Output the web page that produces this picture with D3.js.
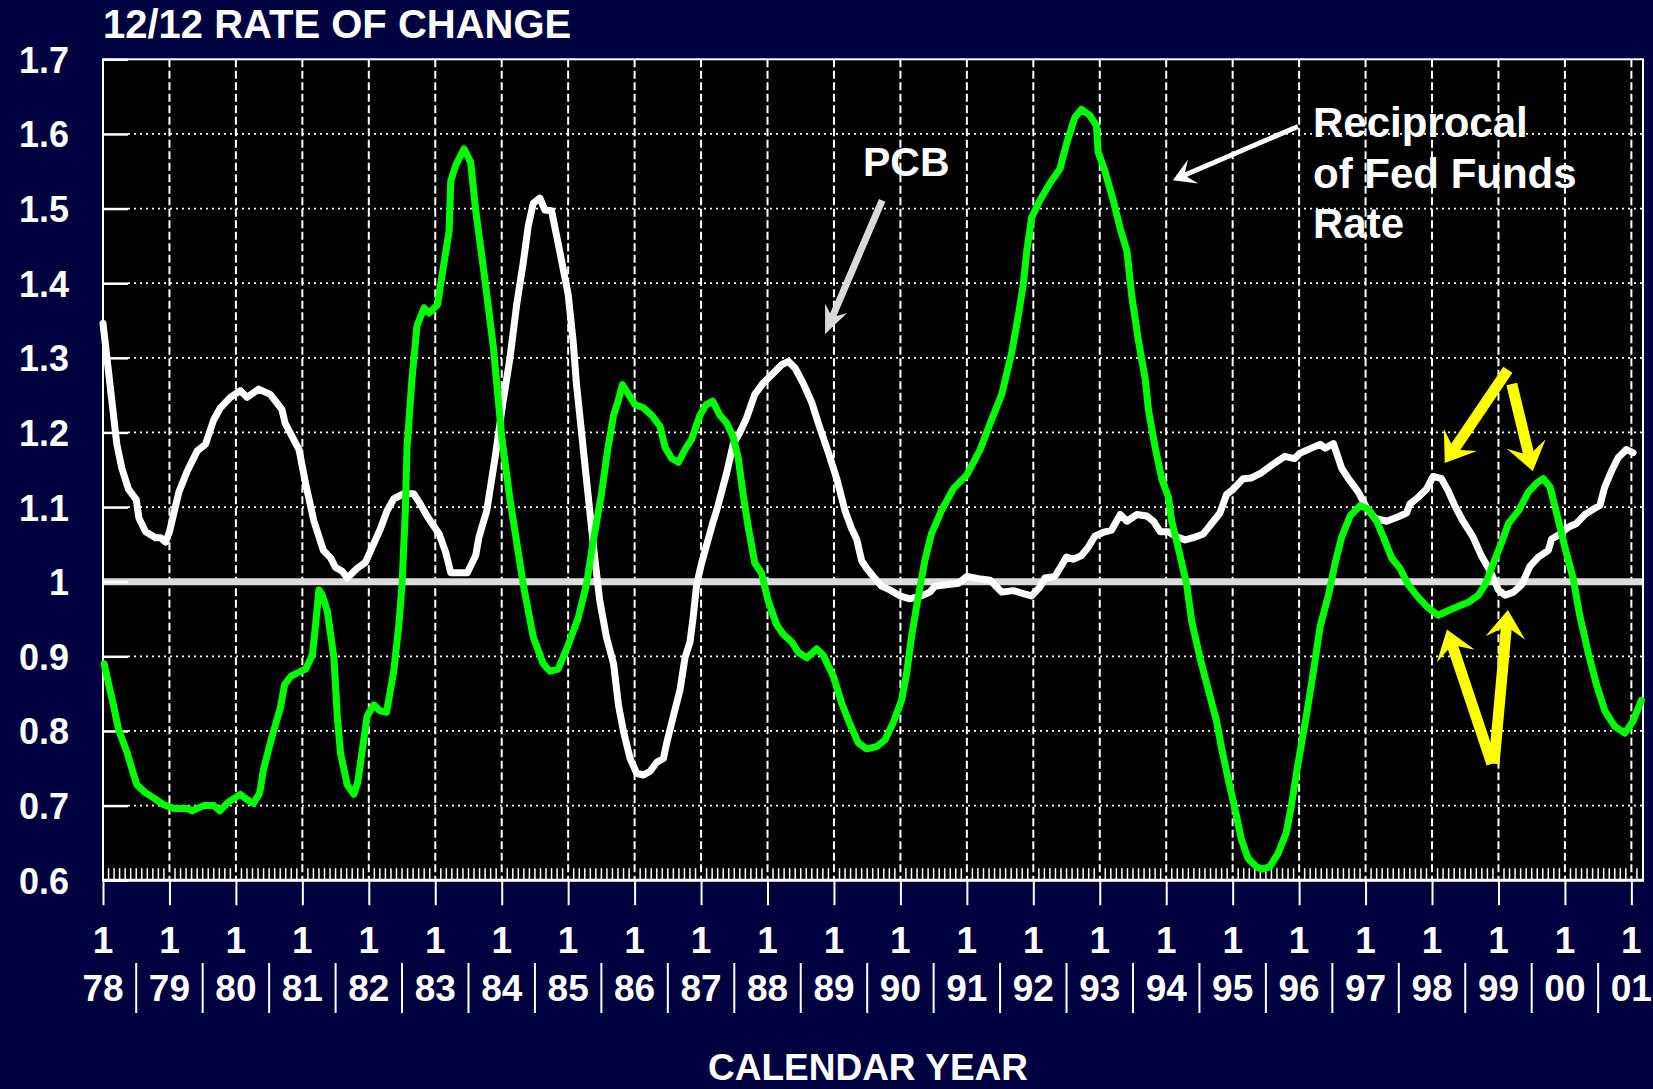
<!DOCTYPE html>
<html><head><meta charset="utf-8">
<script src="https://cdn.jsdelivr.net/npm/d3@7"></script>
<style>
html,body{margin:0;padding:0;background:#000040;}
svg{display:block;font-family:"Liberation Sans",Arial,sans-serif;font-weight:bold;}
</style></head>
<body><svg id="c" width="1653" height="1089"></svg>
<script>
// ---- data (month offset from Jan 1978, value) ----
const pcbSeries = [[0,1.346],[2.5,1.184],[3.4,1.152],[4.6,1.124],[6.0,1.110],[6.5,1.085],[7.7,1.067],[9.5,1.059],[10.4,1.059],[11.3,1.053],[12.0,1.067],[13.7,1.120],[15.2,1.148],[17.0,1.175],[18.5,1.184],[20.0,1.217],[21.2,1.233],[23.0,1.247],[24.8,1.256],[26.0,1.247],[28.1,1.258],[30.2,1.251],[32.3,1.231],[32.9,1.212],[35.4,1.177],[36.6,1.131],[38.1,1.081],[39.8,1.042],[41.1,1.032],[42.0,1.019],[43.2,1.014],[44.1,1.005],[45.9,1.018],[47.4,1.026],[48.6,1.046],[50.1,1.071],[51.3,1.095],[52.5,1.111],[54.3,1.118],[56.1,1.118],[57.3,1.104],[58.6,1.087],[60.7,1.064],[61.9,1.039],[62.8,1.012],[65.8,1.012],[67.3,1.035],[67.9,1.060],[69.3,1.095],[70.8,1.166],[72.3,1.244],[73.5,1.300],[74.7,1.371],[75.9,1.428],[76.8,1.477],[77.7,1.507],[78.9,1.514],[79.8,1.498],[81.0,1.497],[82.5,1.442],[84.0,1.385],[84.9,1.322],[85.5,1.265],[86.7,1.180],[87.9,1.095],[88.8,1.032],[89.7,0.975],[90.9,0.926],[92.2,0.890],[93.1,0.834],[94.0,0.799],[95.2,0.763],[96.4,0.743],[97.6,0.741],[98.8,0.746],[100.0,0.758],[101.2,0.763],[101.8,0.784],[103.0,0.820],[104.2,0.855],[105.1,0.898],[106.0,0.919],[106.6,0.954],[107.2,0.996],[108.1,1.025],[109.3,1.057],[110.2,1.081],[110.8,1.095],[111.7,1.120],[112.6,1.145],[113.8,1.184],[115.0,1.200],[116.2,1.219],[117.7,1.251],[119.2,1.266],[121.0,1.279],[122.6,1.291],[123.8,1.295],[125.0,1.286],[126.5,1.265],[128.0,1.240],[129.5,1.205],[131.0,1.173],[132.5,1.138],[134.0,1.095],[135.2,1.071],[136.1,1.057],[137.0,1.028],[137.9,1.018],[139.1,1.007],[140.6,0.994],[142.1,0.989],[143.9,0.981],[145.7,0.977],[147.8,0.981],[149.3,0.986],[150.2,0.994],[152.3,0.996],[154.5,0.998],[156.0,1.007],[158.1,1.004],[160.2,1.002],[161.4,0.993],[162.3,0.986],[164.4,0.988],[166.2,0.984],[167.7,0.981],[169.2,0.993],[170.1,1.005],[171.9,1.007],[172.8,1.018],[174.0,1.033],[175.2,1.030],[176.7,1.035],[177.9,1.046],[179.1,1.061],[180.6,1.066],[182.1,1.069],[183.7,1.090],[184.9,1.081],[186.7,1.090],[188.5,1.088],[189.7,1.081],[190.9,1.067],[192.4,1.067],[193.9,1.060],[195.4,1.056],[196.9,1.059],[198.7,1.064],[200.2,1.078],[201.7,1.092],[202.9,1.117],[204.1,1.124],[205.9,1.138],[207.4,1.139],[209.0,1.145],[211.6,1.159],[213.4,1.168],[215.2,1.165],[216.1,1.172],[217.6,1.177],[219.8,1.184],[220.7,1.179],[222.2,1.185],[223.7,1.152],[224.9,1.138],[226.7,1.120],[228.2,1.099],[229.7,1.085],[231.8,1.081],[233.9,1.087],[235.4,1.092],[236.0,1.104],[237.5,1.113],[239.0,1.124],[240.2,1.141],[241.7,1.138],[242.9,1.122],[244.1,1.102],[245.6,1.081],[247.4,1.060],[248.9,1.035],[250.5,1.014],[252.0,0.989],[253.2,0.982],[254.7,0.986],[256.2,0.996],[257.7,1.021],[259.2,1.033],[261.0,1.042],[261.6,1.057],[263.1,1.064],[264.6,1.073],[266.1,1.078],[267.6,1.090],[269.1,1.097],[270.3,1.102],[271.2,1.127],[272.4,1.148],[273.6,1.166],[275.1,1.177],[276.3,1.173]];

const fedFundsRecipSeries = [[0.2,0.890],[1.9,0.834],[2.8,0.802],[4.3,0.772],[6.1,0.728],[7.7,0.717],[9.2,0.710],[11.0,0.701],[12.8,0.696],[15.2,0.696],[16.1,0.693],[18.2,0.700],[20.0,0.700],[21.1,0.693],[22.7,0.705],[24.8,0.715],[26.0,0.708],[27.2,0.703],[28.3,0.717],[29.0,0.749],[30.5,0.792],[32.0,0.830],[32.8,0.862],[33.9,0.873],[35.7,0.880],[36.6,0.883],[37.8,0.901],[38.4,0.943],[39.0,0.989],[39.6,0.982],[40.5,0.961],[41.7,0.898],[42.3,0.820],[42.9,0.770],[44.1,0.728],[45.3,0.715],[46.0,0.731],[47.7,0.820],[48.9,0.835],[50.0,0.827],[51.2,0.825],[52.5,0.880],[53.4,0.940],[54.0,0.996],[54.6,1.095],[54.9,1.180],[55.8,1.272],[56.7,1.343],[58.0,1.367],[58.9,1.360],[60.4,1.371],[61.6,1.428],[62.5,1.470],[62.8,1.537],[63.7,1.558],[65.2,1.580],[66.4,1.562],[67.3,1.498],[68.7,1.420],[70.5,1.314],[72.0,1.194],[73.5,1.110],[74.7,1.053],[75.9,0.996],[76.8,0.961],[77.7,0.926],[79.5,0.890],[80.7,0.880],[82.2,0.883],[84.0,0.915],[85.8,0.951],[87.3,0.996],[88.5,1.053],[90.0,1.117],[91.2,1.180],[92.2,1.223],[93.1,1.244],[93.8,1.264],[94.9,1.251],[96.1,1.237],[97.6,1.233],[99.1,1.223],[100.6,1.208],[101.5,1.180],[102.7,1.165],[103.9,1.160],[105.1,1.177],[106.3,1.191],[107.8,1.223],[108.9,1.237],[110.1,1.242],[111.4,1.223],[112.6,1.213],[113.8,1.194],[114.7,1.166],[115.6,1.117],[116.5,1.074],[117.7,1.025],[118.9,1.012],[120.1,0.975],[121.6,0.943],[122.9,0.929],[124.4,0.919],[125.6,0.905],[127.1,0.898],[128.9,0.910],[130.1,0.901],[131.9,0.873],[133.4,0.837],[134.9,0.809],[136.4,0.784],[137.9,0.776],[139.7,0.779],[141.2,0.788],[142.7,0.811],[144.2,0.841],[145.1,0.876],[146.0,0.926],[147.2,0.979],[148.4,1.028],[149.6,1.064],[151.4,1.095],[153.6,1.125],[156.0,1.143],[158.4,1.177],[160.2,1.212],[162.3,1.251],[164.1,1.307],[165.3,1.357],[166.2,1.399],[166.8,1.442],[167.7,1.488],[169.2,1.511],[171.0,1.534],[172.8,1.553],[174.0,1.587],[175.5,1.622],[176.7,1.633],[178.2,1.625],[179.4,1.611],[179.7,1.576],[180.9,1.551],[182.4,1.512],[183.7,1.473],[184.9,1.443],[185.8,1.382],[187.0,1.322],[188.2,1.272],[188.8,1.230],[190.0,1.180],[191.2,1.138],[192.4,1.113],[193.0,1.081],[194.5,1.035],[195.7,0.996],[196.6,0.947],[198.1,0.898],[199.6,0.855],[201.1,0.813],[202.0,0.777],[203.2,0.735],[204.4,0.696],[205.6,0.654],[206.8,0.629],[208.3,0.618],[209.2,0.615],[210.7,0.618],[212.2,0.636],[213.7,0.664],[214.6,0.700],[215.8,0.756],[217.3,0.820],[218.5,0.876],[219.8,0.940],[221.3,0.982],[222.5,1.025],[223.7,1.060],[225.2,1.088],[227.0,1.102],[228.5,1.097],[230.0,1.081],[231.2,1.060],[232.7,1.032],[234.2,1.018],[235.7,0.996],[237.5,0.979],[239.3,0.965],[241.1,0.955],[242.9,0.961],[244.7,0.967],[246.5,0.972],[248.4,0.982],[249.6,0.996],[251.1,1.025],[252.6,1.053],[253.8,1.078],[255.6,1.095],[257.4,1.120],[258.9,1.132],[260.1,1.138],[261.3,1.127],[262.5,1.092],[264.0,1.046],[265.5,1.004],[266.7,0.954],[268.2,0.905],[269.7,0.862],[271.2,0.827],[273.0,0.806],[274.8,0.797],[276.3,0.813],[277.8,0.841]];

const yearLabels = ["78","79","80","81","82","83","84","85","86","87","88","89","90","91","92","93","94","95","96","97","98","99","00","01"];
const monthLabel = "1";
const yTickValues = [0.6,0.7,0.8,0.9,1.0,1.1,1.2,1.3,1.4,1.5,1.6,1.7];
const yTickLabels = ["0.6","0.7","0.8","0.9","1","1.1","1.2","1.3","1.4","1.5","1.6","1.7"];
const referenceValue = 1.0;
const chartTitle = "12/12 RATE OF CHANGE";
const xTitle = "CALENDAR YEAR";
const pcbLabel = ["PCB"];
const fedLabel = ["Reciprocal","of Fed Funds","Rate"];
// annotation arrows in data space: [tailMonth, tailValue, tipMonth, tipValue]
const pcbArrow = [140.7,1.511,130.4,1.332];
const fedArrow = [215.8,1.610,193.2,1.538];
const yellowArrows = [[253.7,1.284,242.3,1.159],[254.4,1.265,258.2,1.148],[250.8,0.756,242.7,0.936],[251.2,0.756,253.7,0.962]];

// ---- layout ----
const L=103, R=1643, T=59.3, B=880.2;
const svg = d3.select("#c");
svg.append("rect").attr("width",1653).attr("height",1089).attr("fill","#000040");

const x = d3.scaleLinear().domain([0,278.1]).range([L,R]);
const y = d3.scaleLinear().domain([0.6,1.7]).range([B,T]);

svg.append("rect").attr("x",L).attr("y",T).attr("width",R-L).attr("height",B-T).attr("fill","#000");

const yearMonths = yearLabels.map((d,i)=>i*12);

// horizontal dotted grid
svg.append("g").selectAll("line").data(yTickValues.filter(v=>v>0.6 && v<1.7 && v!==referenceValue)).join("line")
  .attr("x1",L+25).attr("x2",R).attr("y1",d=>y(d)).attr("y2",d=>y(d))
  .attr("stroke","#fff").attr("stroke-width",1.7).attr("stroke-dasharray","2,4");

// vertical dashed grid
svg.append("g").selectAll("line").data(yearMonths.filter(m=>m>0)).join("line")
  .attr("x1",d=>x(d)).attr("x2",d=>x(d)).attr("y1",T).attr("y2",B)
  .attr("stroke","#fff").attr("stroke-width",2).attr("stroke-dasharray","8,3.5");

// minor monthly ticks
const minorMonths = d3.range(1,278).filter(m=>m%12!==0);
svg.append("g").selectAll("line").data(minorMonths).join("line")
  .attr("x1",d=>x(d)).attr("x2",d=>x(d)).attr("y1",B-12).attr("y2",B)
  .attr("stroke","#fff").attr("stroke-width",1.5);

// reference line at 1.0
svg.append("line").attr("x1",L).attr("x2",R).attr("y1",y(referenceValue)).attr("y2",y(referenceValue))
  .attr("stroke","#dcdcdc").attr("stroke-width",7);

// y axis
const yAxis = d3.axisLeft(y).tickValues(yTickValues).tickFormat((d,i)=>yTickLabels[i]).tickSize(-25).tickPadding(34);
const gy = svg.append("g").attr("transform",`translate(${L},0)`).call(yAxis);
gy.select(".domain").remove();
gy.selectAll(".tick line").attr("stroke","#fff").attr("stroke-width",2.5);
gy.selectAll(".tick text").attr("fill","#fff").style("font-size","36px").style("font-weight","bold")
  .style("font-family","'Liberation Sans',Arial,sans-serif").attr("dy","0.36em");

// x axis (major ticks below)
const xAxis = d3.axisBottom(x).tickValues(yearMonths).tickFormat("").tickSize(25);
const gx = svg.append("g").attr("transform",`translate(0,${B})`).call(xAxis);
gx.select(".domain").remove();
gx.selectAll(".tick line").attr("stroke","#fff").attr("stroke-width",2);

// x labels
const lab = svg.append("g").attr("fill","#fff").style("font-size","37px").attr("text-anchor","middle");
lab.selectAll("text.m").data(yearMonths).join("text").attr("class","m")
  .attr("x",d=>x(d)).attr("y",953).text(monthLabel);
lab.selectAll("text.yr").data(yearLabels).join("text").attr("class","yr")
  .attr("x",(d,i)=>x(yearMonths[i])).attr("y",1001).text(d=>d);
svg.append("g").selectAll("line").data(yearMonths.slice(0,-1)).join("line")
  .attr("x1",d=>x(d+6)).attr("x2",d=>x(d+6)).attr("y1",963).attr("y2",1013)
  .attr("stroke","#fff").attr("stroke-width",2);

// frame
svg.append("rect").attr("x",L).attr("y",T).attr("width",R-L).attr("height",B-T)
  .attr("fill","none").attr("stroke","#fff").attr("stroke-width",2);
svg.append("line").attr("x1",L).attr("x2",R+1).attr("y1",B).attr("y2",B).attr("stroke","#fff").attr("stroke-width",3);

// series
const line = d3.line().x(d=>x(d[0])).y(d=>y(d[1]));
svg.append("path").datum(pcbSeries).attr("d",line).attr("fill","none").attr("stroke","#fff")
  .attr("stroke-width",7).attr("stroke-linejoin","round").attr("stroke-linecap","round");
svg.append("path").datum(fedFundsRecipSeries).attr("d",line).attr("fill","none").attr("stroke","#00ff00")
  .attr("stroke-width",7).attr("stroke-linejoin","round").attr("stroke-linecap","round");

// arrows
function arrow(a, opt){
  const x1=x(a[0]), y1=y(a[1]), x2=x(a[2]), y2=y(a[3]);
  const dx=x2-x1, dy=y2-y1, len=Math.hypot(dx,dy);
  const ux=dx/len, uy=dy/len, nx=-uy, ny=ux;
  const s=opt.shaft/2, hl=opt.headLen, hh=opt.headHalf, nb=hl*(1-(opt.notch||0));
  const bx=x2-ux*hl, by=y2-uy*hl, jx=x2-ux*nb, jy=y2-uy*nb;
  const pts=[[x1+nx*s,y1+ny*s],[jx+nx*s,jy+ny*s],[bx+nx*hh,by+ny*hh],[x2,y2],[bx-nx*hh,by-ny*hh],[jx-nx*s,jy-ny*s],[x1-nx*s,y1-ny*s]];
  svg.append("path").attr("d","M"+pts.map(p=>p.join(",")).join("L")+"Z").attr("fill",opt.color);
}
arrow(pcbArrow,{shaft:7,headLen:28,headHalf:12,notch:0.25,color:"#d9d9d9"});
arrow(fedArrow,{shaft:5,headLen:22,headHalf:13,notch:0.35,color:"#fff"});
yellowArrows.forEach(a=>arrow(a,{shaft:11,headLen:28,headHalf:20,notch:0.3,color:"#ffff00"}));

// text labels
const tx = svg.append("g").attr("fill","#fff");
tx.append("text").attr("x",103).attr("y",38).style("font-size","40px").text(chartTitle);
tx.append("text").attr("x",868).attr("y",1080).attr("text-anchor","middle").style("font-size","37px").text(xTitle);
tx.append("text").attr("x",863).attr("y",176).style("font-size","41px").text(pcbLabel[0]);
tx.selectAll("text.f").data(fedLabel).join("text").attr("class","f")
  .attr("x",1313).attr("y",(d,i)=>137+i*50.5).style("font-size","42px").text(d=>d);
</script></body></html>
